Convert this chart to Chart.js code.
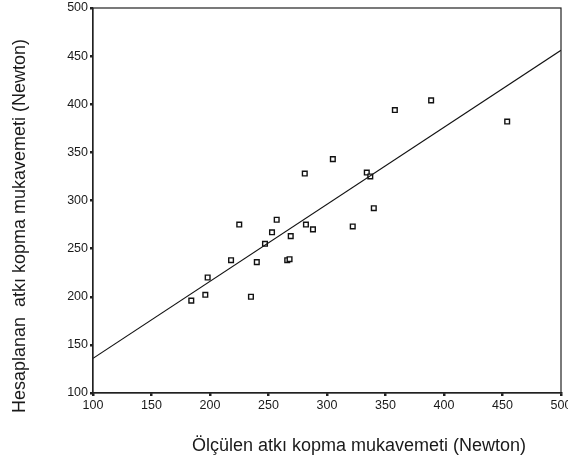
<!DOCTYPE html>
<html>
<head>
<meta charset="utf-8">
<script src="https://cdn.jsdelivr.net/npm/chart.js@4/dist/chart.umd.min.js"></script>
<style>
  html, body { margin: 0; padding: 0; background: #fff; }
  #wrap { width: 568px; height: 464px; position: relative; }
</style>
</head>
<body>
<div id="wrap"><canvas id="chart" width="568" height="464"></canvas></div>
<script>
// Measured (x) vs calculated (y) breaking strength, Newton
const measured = [184, 196, 198, 218, 225, 235, 240, 247, 253, 257, 266, 268, 269, 282, 288,
                  305, 281, 334, 337, 340, 322, 358, 389, 454];
const calculated = [196, 202, 220, 238, 275, 200, 236, 255, 267, 280, 238, 239, 263, 275, 270,
                    343, 328, 329, 325, 292, 273, 394, 404, 382];

// fit line end points
const fitX = [100, 500];
const fitY = [136, 456];

const xTicks = [100, 150, 200, 250, 300, 350, 400, 450, 500];
const yTicks = [100, 150, 200, 250, 300, 350, 400, 450, 500];

const xTitle = 'Ölçülen atkı kopma mukavemeti (Newton)';
const yTitle = 'Hesaplanan  atkı kopma mukavemeti (Newton)';

const FONT = '"Liberation Sans", Arial, sans-serif';

const points = measured.map((v, i) => ({ x: v, y: calculated[i] }));
const fitLine = fitX.map((v, i) => ({ x: v, y: fitY[i] }));

// frame + axis titles
const framePlugin = {
    id: 'frame',
    afterDatasetsDraw(chart) {
        const a = chart.chartArea;
        const ctx = chart.ctx;
        ctx.save();
        ctx.strokeStyle = '#222';
        ctx.lineWidth = 1.2;
        ctx.strokeRect(a.left, a.top, a.right - a.left, a.bottom - a.top);
        ctx.restore();
    },
    afterDraw(chart) {
        const ctx = chart.ctx;
        ctx.save();
        ctx.fillStyle = '#1a1a1a';
        ctx.font = '18px ' + FONT;
        ctx.textAlign = 'center';
        ctx.textBaseline = 'middle';
        ctx.fillText(xTitle, 359, 446);
        ctx.translate(20, 226);
        ctx.rotate(-Math.PI / 2);
        ctx.fillText(yTitle, 0, 0);
        ctx.restore();
    }
};

new Chart(document.getElementById('chart'), {
    type: 'scatter',
    data: {
        datasets: [
            {
                type: 'line',
                data: fitLine,
                borderColor: '#111',
                borderWidth: 1.2,
                pointRadius: 0,
                fill: false
            },
            {
                data: points,
                pointStyle: 'rect',
                pointRadius: 3.3,
                borderColor: '#111',
                borderWidth: 1.4,
                backgroundColor: '#fff'
            }
        ]
    },
    options: {
        responsive: false,
        animation: false,
        layout: { autoPadding: false, padding: { top: 8, right: 7, left: 0, bottom: 0 } },
        plugins: {
            legend: { display: false },
            tooltip: { enabled: false }
        },
        scales: {
            x: {
                type: 'linear',
                min: 100,
                max: 500,
                afterBuildTicks: s => { s.ticks = xTicks.map(v => ({ value: v })); },
                afterFit: s => { s.height = 71; s.paddingLeft = 0; s.paddingRight = 0; },
                grid: { drawOnChartArea: false, drawTicks: true, tickLength: 3, lineWidth: 2.5, color: '#222' },
                border: { display: true, color: '#222', width: 1.2 },
                ticks: { color: '#1a1a1a', font: { family: FONT, size: 12.5 }, padding: 2, maxRotation: 0 }
            },
            y: {
                type: 'linear',
                min: 100,
                max: 500,
                afterBuildTicks: s => { s.ticks = yTicks.map(v => ({ value: v })); },
                afterFit: s => { s.width = 93; s.paddingTop = 0; s.paddingBottom = 0; },
                grid: { drawOnChartArea: false, drawTicks: true, tickLength: 3, lineWidth: 2.5, color: '#222' },
                border: { display: true, color: '#222', width: 1.2 },
                ticks: { color: '#1a1a1a', font: { family: FONT, size: 12.5 }, padding: 2 }
            }
        }
    },
    plugins: [framePlugin]
});
</script>
</body>
</html>
